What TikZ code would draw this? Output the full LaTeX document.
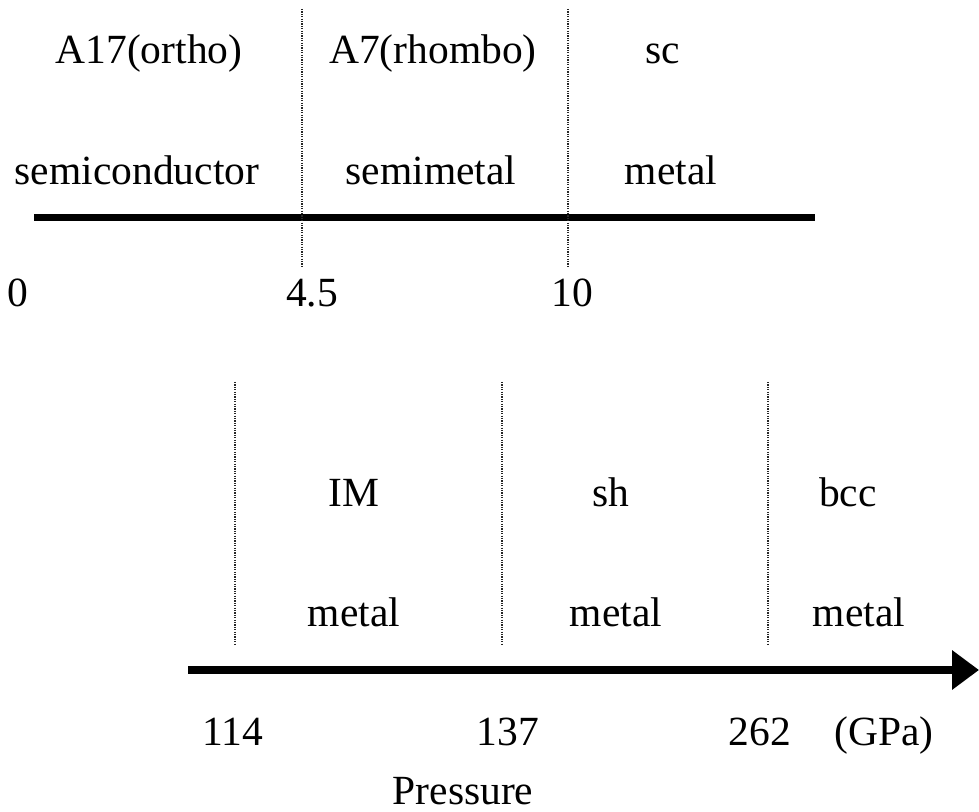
\documentclass[tikz,border=0pt]{standalone}
\usepackage{fontspec}
\setmainfont{Liberation Serif}
\usetikzlibrary{arrows.meta}
\begin{document}
\begin{tikzpicture}[x=1pt,y=1pt,
  lbl/.style={font=\fontsize{41.5}{46}\selectfont, inner sep=0pt, anchor=base},
  axis/.style={line width=7.5pt, line cap=butt},
  sep/.style={line width=1.6pt, dash pattern=on 1.3pt off 1.1pt, black!85}]
\useasboundingbox (0,0) rectangle (979,811);
% top axis
\coordinate (t0) at (34,593.5);
\coordinate (t1) at (815,593.5);
\draw[axis] (t0) -- (t1);
\coordinate (d1a) at (302,802); \coordinate (d1b) at (302,543);
\coordinate (d2a) at (568,802); \coordinate (d2b) at (568,543);
\draw[sep] (d1a) -- (d1b);
\draw[sep] (d2a) -- (d2b);
\node[lbl] (a17) at (149,747) {A17(ortho)};
\node[lbl] (a7) at (433,747) {A7(rhombo)};
\node[lbl] (sc) at (663,747) {sc};
\node[lbl] (semic) at (137,626) {semiconductor};
\node[lbl] (semim) at (431,626) {semimetal};
\node[lbl] (met0) at (671,626) {metal};
\node[lbl] (p0) at (18,504) {0};
\node[lbl] (p45) at (312,504) {4.5};
\node[lbl] (p10) at (572,504) {10};
% bottom axis
\coordinate (b0) at (188,141);
\coordinate (b1) at (979,141);
\draw[axis, -{Triangle[length=27pt,width=38pt]}] (b0) -- (b1);
\coordinate (e1a) at (235,429); \coordinate (e1b) at (235,166);
\coordinate (e2a) at (502,429); \coordinate (e2b) at (502,166);
\coordinate (e3a) at (768,429); \coordinate (e3b) at (768,166);
\draw[sep] (e1a) -- (e1b);
\draw[sep] (e2a) -- (e2b);
\draw[sep] (e3a) -- (e3b);
\node[lbl] (im) at (354,304) {IM};
\node[lbl] (sh) at (611,304) {sh};
\node[lbl] (bcc) at (848,304) {bcc};
\node[lbl] (met1) at (354,184) {metal};
\node[lbl] (met2) at (616,184) {metal};
\node[lbl] (met3) at (859,184) {metal};
\node[lbl] (p114) at (233,66) {114};
\node[lbl] (p137) at (508,66) {137};
\node[lbl] (p262) at (760,66) {262};
\node[lbl] (gpa) at (884,66) {(GPa)};
\node[lbl] (press) at (463,7) {Pressure};
\end{tikzpicture}
\end{document}
